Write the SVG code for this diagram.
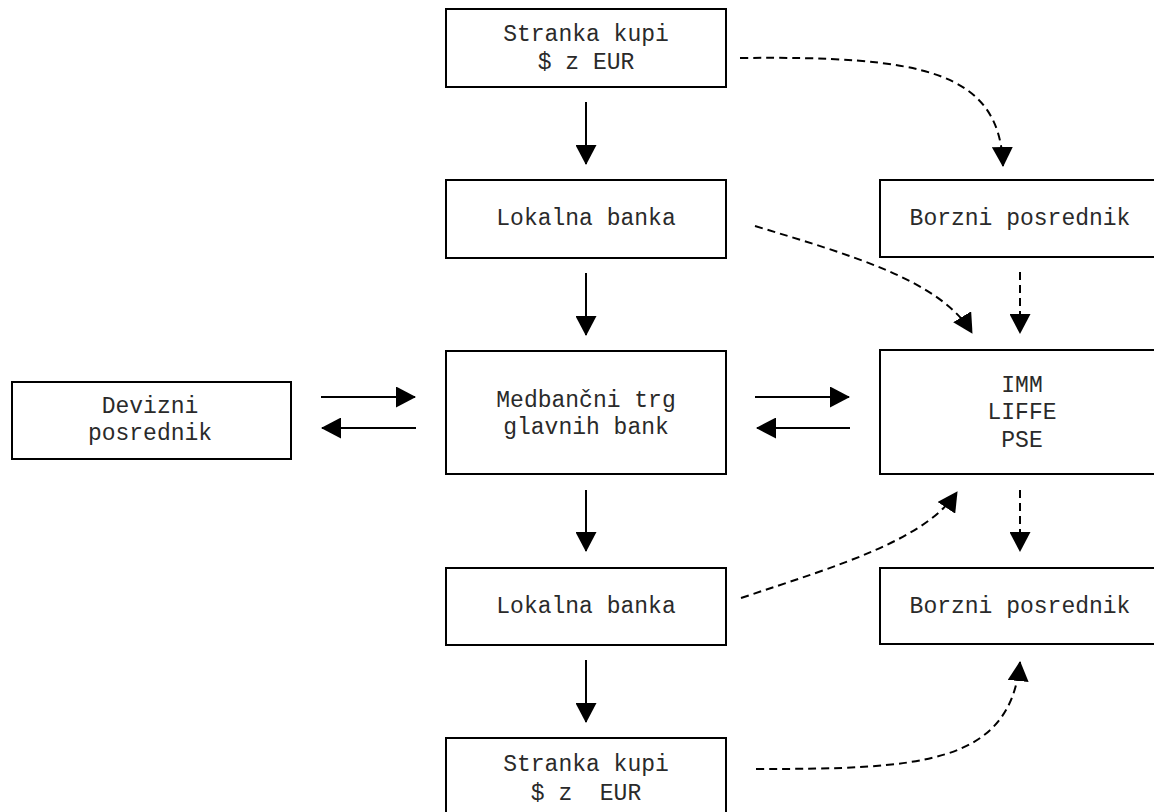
<svg xmlns="http://www.w3.org/2000/svg" width="1154" height="812" viewBox="0 0 1154 812">
  <style>
    .box { fill: #ffffff; stroke: #000000; stroke-width: 2; }
    .lbl { font-family: "Liberation Mono", "Courier New", monospace; font-size: 23px; fill: #2a2a2a; text-anchor: middle; }
    .solid { fill: none; stroke: #000000; stroke-width: 2; marker-end: url(#head); }
    .dash { fill: none; stroke: #000000; stroke-width: 2; stroke-dasharray: 8 5; marker-end: url(#head); }
  </style>
  <defs>
    <marker id="head" markerUnits="userSpaceOnUse" markerWidth="20" markerHeight="21" viewBox="0 0 20 21" refX="19" refY="10.5" orient="auto">
      <path d="M0,0 L20,10.5 L0,21 z" fill="#000000"/>
    </marker>
  </defs>
  <rect width="1154" height="812" fill="#ffffff"/>

  <!-- main column -->
  <g id="stranka-top">
    <rect class="box" x="446" y="9" width="280" height="78"/>
    <text class="lbl" x="586" y="41">Stranka kupi</text>
    <text class="lbl" x="586" y="69">$ z EUR</text>
  </g>
  <g id="lokalna-top">
    <rect class="box" x="446" y="180" width="280" height="78"/>
    <text class="lbl" x="586" y="225">Lokalna banka</text>
  </g>
  <g id="medbancni">
    <rect class="box" x="446" y="351" width="280" height="123"/>
    <text class="lbl" x="586" y="407">Medbančni trg</text>
    <text class="lbl" x="586" y="434">glavnih bank</text>
  </g>
  <g id="lokalna-bottom">
    <rect class="box" x="446" y="568" width="280" height="77"/>
    <text class="lbl" x="586" y="613">Lokalna banka</text>
  </g>
  <g id="stranka-bottom">
    <rect class="box" x="446" y="738" width="280" height="78"/>
    <text class="lbl" x="586" y="771">Stranka kupi</text>
    <text class="lbl" x="586" y="800" xml:space="preserve">$ z  EUR</text>
  </g>

  <!-- left -->
  <g id="devizni">
    <rect class="box" x="12" y="382" width="279" height="77"/>
    <text class="lbl" x="150" y="413">Devizni</text>
    <text class="lbl" x="150" y="440">posrednik</text>
  </g>

  <!-- right column -->
  <g id="borzni-top">
    <rect class="box" x="880" y="180" width="280" height="77"/>
    <text class="lbl" x="1020" y="225">Borzni posrednik</text>
  </g>
  <g id="borza">
    <rect class="box" x="880" y="350" width="280" height="124"/>
    <text class="lbl" x="1022" y="392">IMM</text>
    <text class="lbl" x="1022" y="419">LIFFE</text>
    <text class="lbl" x="1022" y="447">PSE</text>
  </g>
  <g id="borzni-bottom">
    <rect class="box" x="880" y="568" width="280" height="76"/>
    <text class="lbl" x="1020" y="613">Borzni posrednik</text>
  </g>

  <g id="connectors">
    <!-- solid flow down the main column -->
    <line class="solid" x1="586" y1="102" x2="586" y2="164"/>
    <line class="solid" x1="586" y1="273" x2="586" y2="335"/>
    <line class="solid" x1="586" y1="490" x2="586" y2="551"/>
    <line class="solid" x1="586" y1="660" x2="586" y2="722"/>
    <!-- two-way links of the interbank market -->
    <line class="solid" x1="321" y1="397" x2="415" y2="397"/>
    <line class="solid" x1="416" y1="428" x2="322" y2="428"/>
    <line class="solid" x1="755" y1="397" x2="849" y2="397"/>
    <line class="solid" x1="850" y1="428" x2="757" y2="428"/>
    <!-- dashed exchange routes -->
    <path class="dash" d="M740,58 C920,56 1000,70 1003,166"/>
    <path class="dash" d="M755,226 C850,255 940,280 972,333"/>
    <line class="dash" x1="1020" y1="272" x2="1020" y2="333"/>
    <path class="dash" d="M741,598 C840,565 925,540 957,492"/>
    <line class="dash" x1="1020" y1="490" x2="1020" y2="551"/>
    <path class="dash" d="M756,769 C920,769 1010,765 1020,662"/>
  </g>
</svg>
